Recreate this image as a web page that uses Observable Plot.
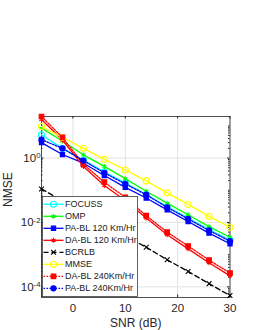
<!DOCTYPE html>
<html><head><meta charset="utf-8">
<script src="https://cdn.jsdelivr.net/npm/d3@7"></script>
<script src="https://cdn.jsdelivr.net/npm/@observablehq/plot@0.6"></script>
<style>
body{margin:0;background:#fff;}
#wrap{position:relative;width:255px;height:330px;font-family:"Liberation Sans",Arial,sans-serif;}
#legend{position:absolute;left:42px;top:196px;}
</style></head><body><div id="wrap"></div><script>
// SNR (dB) sample points
const snr = [-6, -2, 2, 6, 10, 14, 18, 22, 26, 30];
// NMSE values per series
const focuss  = [5.25, 2.0, 0.871, 0.372, 0.166, 0.0741, 0.0309, 0.0138, 0.00603, 0.00282];
const omp     = [8.51, 3.39, 1.26, 0.55, 0.229, 0.0933, 0.0398, 0.0174, 0.00741, 0.00347];
const pabl120 = [3.02, 1.29, 0.692, 0.288, 0.123, 0.0575, 0.0245, 0.0107, 0.00468, 0.00219];
const dabl120 = [15.8, 3.63, 0.55, 0.141, 0.0479, 0.0138, 0.00417, 0.00151, 0.000562, 0.000219];
const bcrlb   = [0.110, 0.0468, 0.020, 0.00851, 0.0038, 0.0017, 0.000692, 0.000302, 0.000126, 0.0000537];
const mmse    = [9.55, 4.37, 2.0, 0.912, 0.427, 0.195, 0.0832, 0.0363, 0.0155, 0.00708];
const dabl240 = [19.5, 4.37, 0.646, 0.178, 0.0603, 0.0162, 0.00501, 0.00186, 0.000676, 0.000269];
const pabl240 = [3.72, 2.0, 0.832, 0.347, 0.158, 0.0724, 0.0295, 0.0129, 0.00562, 0.00263];
const seriesNames = ["FOCUSS", "OMP", "PA-BL 120 Km/Hr", "DA-BL 120 Km/Hr", "BCRLB", "MMSE", "DA-BL 240Km/Hr", "PA-BL 240Km/Hr"];
const seriesValues = [focuss, omp, pabl120, dabl120, bcrlb, mmse, dabl240, pabl240];
const xTicks = [0, 10, 20, 30];
const yTicks = [1e-4, 1e-2, 1];
const xLabel = "SNR (dB)";
const yLabel = "NMSE";

const styles = [
  {color: "#00ffff", dash: null,      symbol: "circle",   fill: "none",    r: 3},
  {color: "#00ff00", dash: null,      symbol: "asterisk", fill: "none",    r: 2.3},
  {color: "#0000ff", dash: null,      symbol: "square",   fill: "#0000ff", r: 2.4},
  {color: "#ff0000", dash: null,      symbol: "asterisk", fill: "none",    r: 2.3},
  {color: "#000000", dash: "5,3",     symbol: "times",    fill: "none",    r: 2.3},
  {color: "#ffff00", dash: null,      symbol: "circle",   fill: "none",    r: 3},
  {color: "#ff0000", dash: "1.6,1.4", symbol: "square",   fill: "#ff0000", r: 2.6},
  {color: "#0000ff", dash: "1.6,1.4", symbol: "circle",   fill: "#0000ff", r: 2.6}
];

const yDomain = [4.68e-5, 19.5];
const minorY = [];
for (let e = -5; e <= 1; e++) for (let m = 1; m <= 9; m++) {
  const v = m * Math.pow(10, e);
  if (v >= yDomain[0] && v <= yDomain[1] && !yTicks.includes(v)) minorY.push(v);
}

const W = 255, H = 330, mt = 116, mb = 33, ml = 41, mr = 25.5;
const fw = W - ml - mr, fh = H - mt - mb;

const seriesMarks = [];
seriesNames.forEach((name, i) => {
  const rows = snr.map((s, j) => ({snr: s, nmse: seriesValues[i][j]}));
  const st = styles[i];
  seriesMarks.push(Plot.line(rows, {x: "snr", y: "nmse", stroke: st.color, strokeWidth: 1.3, strokeDasharray: st.dash}));
  seriesMarks.push(Plot.dot(rows, {x: "snr", y: "nmse", symbol: st.symbol, r: st.r, stroke: st.color, fill: st.fill, strokeWidth: 1.1}));
});

const chart = Plot.plot({
  width: W, height: H,
  marginTop: mt, marginBottom: mb, marginLeft: ml, marginRight: mr,
  style: {fontFamily: '"Liberation Sans", Arial, sans-serif', fontSize: "11.5px", color: "#262626", background: "#fff", overflow: "visible"},
  x: {domain: [-6, 30], label: null, axis: null},
  y: {type: "log", domain: yDomain, label: null},
  marks: [
    Plot.gridX(xTicks, {stroke: "#e3e3e3", strokeOpacity: 1}),
    Plot.gridY(yTicks, {stroke: "#e3e3e3", strokeOpacity: 1}),
    Plot.tickX(xTicks, {x: d => d, insetTop: fh - 2.5, stroke: "#262626"}),
    Plot.tickX(xTicks, {x: d => d, insetBottom: fh - 2.5, stroke: "#262626"}),
    Plot.tickY(yTicks, {y: d => d, insetRight: fw - 2.5, stroke: "#262626"}),
    Plot.tickY(yTicks, {y: d => d, insetLeft: fw - 2.5, stroke: "#262626"}),
    Plot.tickY(minorY, {y: d => d, insetRight: fw - 1.5, stroke: "#262626"}),
    Plot.tickY(minorY, {y: d => d, insetLeft: fw - 1.5, stroke: "#262626"}),
    Plot.frame({stroke: "#262626", strokeWidth: 0.8}),
    Plot.text(xTicks, {x: d => d, frameAnchor: "bottom", lineAnchor: "middle", dy: 10.5, text: d => String(d), fontSize: 11.5, fill: "#262626"}),
    Plot.axisY(yTicks, {tickSize: 0, tickPadding: 1, label: null, fill: "#262626", tickFormat: d => "10^" + Math.round(Math.log10(d))}),
    Plot.text([xLabel], {frameAnchor: "bottom", lineAnchor: "middle", dy: 25.7, fontSize: 12, fill: "#262626"}),
    Plot.text([yLabel], {frameAnchor: "left", lineAnchor: "middle", dx: -33, rotate: -90, fontSize: 12, fill: "#262626"}),
    ...seriesMarks
  ]
});

d3.select(chart).selectAll('g[aria-label="y-axis tick label"] text').each(function() {
  const t = d3.select(this);
  const parts = t.text().split("^");
  t.text(null);
  t.append("tspan").text(parts[0]);
  t.append("tspan").attr("dy", "-0.45em").attr("font-size", "0.68em").text(parts[1]);
});

const wrap = document.getElementById("wrap");
wrap.appendChild(chart);

// legend
const lg = d3.select(wrap).append("svg").attr("id", "legend").attr("width", 97).attr("height", 102);
lg.append("rect").attr("x", 0.5).attr("y", 0.5).attr("width", 95).attr("height", 100)
  .attr("fill", "#fff").attr("stroke", "#3a3a3a").attr("stroke-width", 0.8);
const symMap = {circle: d3.symbolCircle, square: d3.symbolSquare, asterisk: d3.symbolAsterisk, times: d3.symbolTimes};
seriesNames.forEach((name, i) => {
  const st = styles[i];
  const cy = 8.3 + 12 * i;
  const g = lg.append("g").attr("transform", `translate(0,${cy})`);
  g.append("line").attr("x1", 1.5).attr("x2", 21.5).attr("y1", 0).attr("y2", 0)
    .attr("stroke", st.color).attr("stroke-width", 1.3).attr("stroke-dasharray", st.dash);
  g.append("path").attr("transform", "translate(11.5,0)")
    .attr("d", d3.symbol(symMap[st.symbol], st.r * st.r * Math.PI)())
    .attr("stroke", st.color).attr("fill", st.fill).attr("stroke-width", 1.1);
  g.append("text").attr("x", 23).attr("dy", "0.35em").attr("font-size", 9)
    .attr("font-family", '"Liberation Sans", Arial, sans-serif').attr("fill", "#1a1a1a").text(name);
});
</script></body></html>
